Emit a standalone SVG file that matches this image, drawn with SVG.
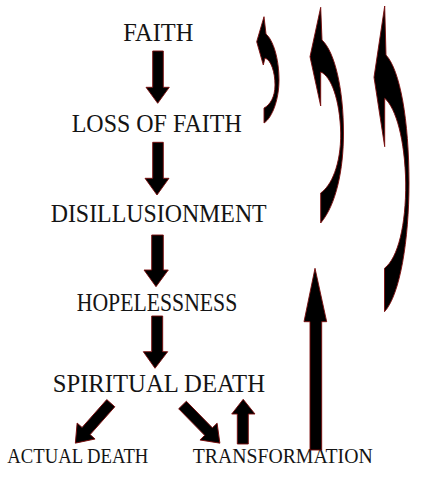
<svg xmlns="http://www.w3.org/2000/svg" width="424" height="480" viewBox="0 0 424 480">
<style>
  .lbl { font-family: "Liberation Serif", "Times New Roman", serif; fill: #141414; text-anchor: start; }
  .big { font-size: 26px; }
  .small { font-size: 20px; }
  .arr { fill: #000; stroke: #7a0c0c; stroke-width: 0.9; stroke-linejoin: miter; }
</style>
<defs>
  <polygon id="diag" points="0,-5.4 37.2,-5.4 37.2,-12 53.4,0 37.2,12 37.2,5.4 0,5.4"/>
</defs>
<rect width="424" height="480" fill="#fff"/>

<g id="node-faith"><text class="lbl big" x="123.3" y="41" textLength="70" lengthAdjust="spacingAndGlyphs">FAITH</text></g>
<g id="node-loss-of-faith"><text class="lbl big" x="71.7" y="131.7" textLength="170" lengthAdjust="spacingAndGlyphs">LOSS OF FAITH</text></g>
<g id="node-disillusionment"><text class="lbl big" x="50.7" y="221.7" textLength="216" lengthAdjust="spacingAndGlyphs">DISILLUSIONMENT</text></g>
<g id="node-hopelessness"><text class="lbl big" x="76.7" y="310.7" textLength="160.6" lengthAdjust="spacingAndGlyphs">HOPELESSNESS</text></g>
<g id="node-spiritual-death"><text class="lbl big" x="52.7" y="391.7" textLength="212.3" lengthAdjust="spacingAndGlyphs">SPIRITUAL DEATH</text></g>
<g id="node-actual-death"><text class="lbl small" x="7.3" y="462.7" textLength="141" lengthAdjust="spacingAndGlyphs">ACTUAL DEATH</text></g>
<g id="node-transformation"><text class="lbl small" x="192.7" y="462.7" textLength="180" lengthAdjust="spacingAndGlyphs">TRANSFORMATION</text></g>

<g id="connectors">
  <polygon class="arr" points="152.7,51 163.3,51 163.3,87.3 169.3,87.3 157.7,103.3 146,87.3 152.7,87.3"/>
  <polygon class="arr" points="152.7,142.3 163.3,142.3 163.3,178.3 169,178.3 157,195 145,178.3 152.7,178.3"/>
  <polygon class="arr" points="151.7,235 163.3,235 163.3,270 168.3,270 156,286.7 144,270 151.7,270"/>
  <polygon class="arr" points="151.7,316 162.7,316 162.7,351.7 167.7,351.7 155,368.3 143.3,351.7 151.7,351.7"/>
  <use class="arr" href="#diag" transform="translate(110.8,403.2) rotate(131.6)"/>
  <use class="arr" href="#diag" transform="translate(182.5,405) rotate(45.6)"/>
  <polygon class="arr" points="237.3,444 248.3,444 248.3,414 255,414 243.2,399.3 231.7,414 237.3,414"/>
  <polygon class="arr" points="310,450 321.7,450 321.7,321.7 326.7,321.7 315,268.3 304,321.7 310,321.7"/>
  <path class="arr" d="M264,16.7 L256.7,41.7 L263.3,65 L265,58 C271,60 275,72 275,85 C275,97 270,105 264,108 L264,123 C272,118 279,100 279,80 C279,58 273,40 266,34 Z"/>
  <path class="arr" d="M320.7,7.3 L310,56.7 L320.7,106 L320.7,72 C331,76 340,100 340.7,133 C341,165 331,186 320.7,193 L320.7,223 C336,205 343.5,170 343.5,133 C343.5,90 335,52 322,40 Z"/>
  <path class="arr" d="M384.7,6 L374,77.3 L384.7,146.7 L384.7,98.3 C396,108 405,140 405.7,183 C406,225 398,258 384.5,268.3 L384.5,311.7 C400,295 409,240 409,183 C409,120 400,70 386,55 Z"/>
</g>
</svg>
